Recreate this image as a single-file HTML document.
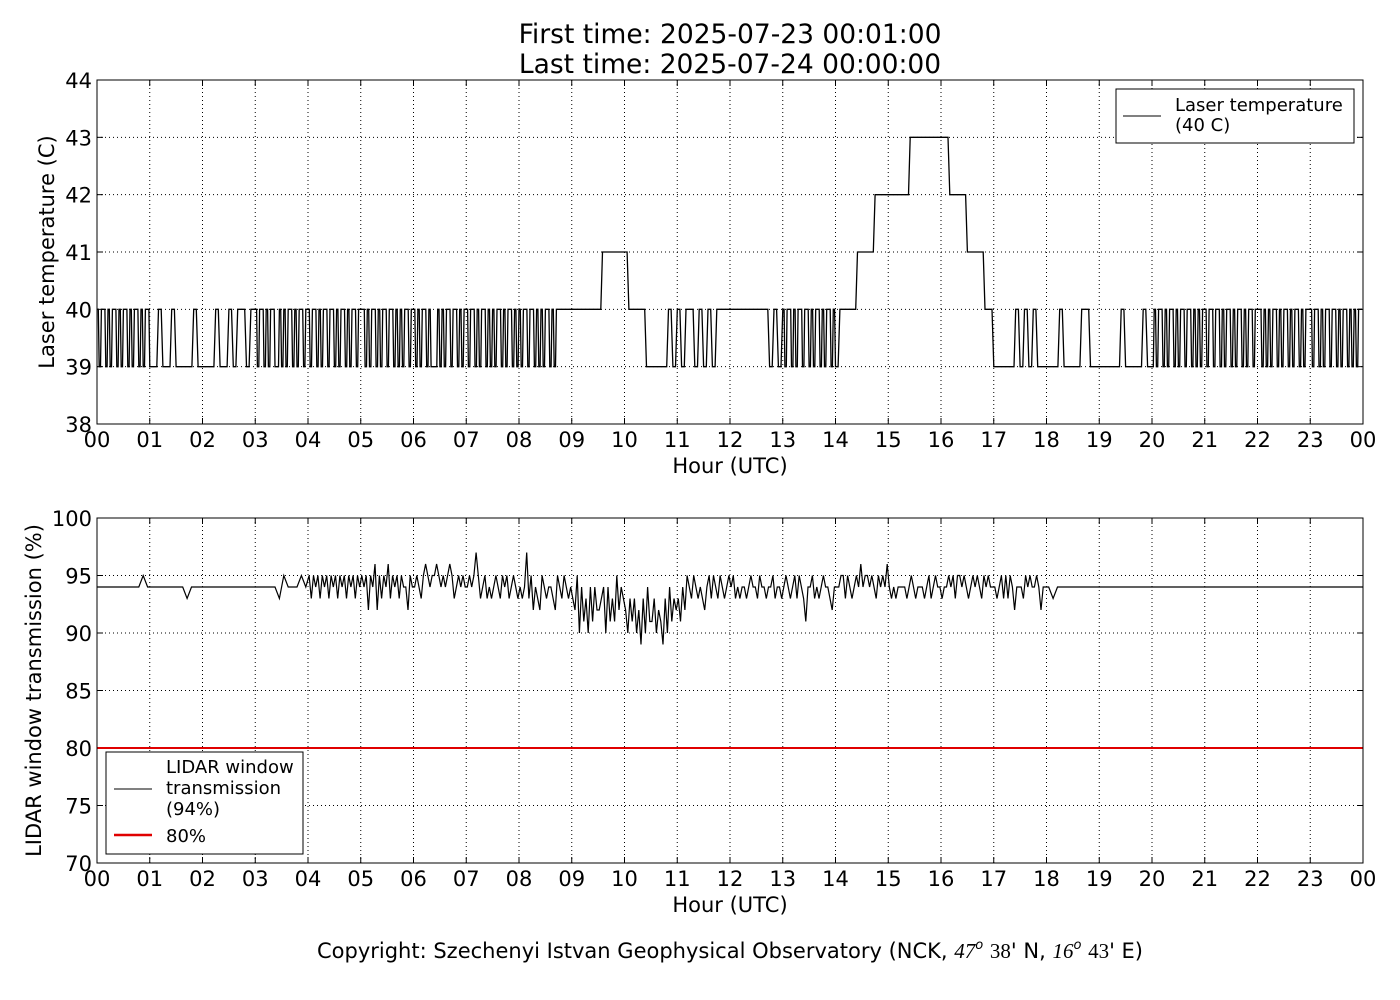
<!DOCTYPE html>
<html><head><meta charset="utf-8"><style>
html,body{margin:0;padding:0;background:#fff;}
svg{display:block;font-family:"DejaVu Sans","Liberation Sans",sans-serif;}
</style></head><body>
<svg id="chart" width="1400" height="1000" viewBox="0 0 1400 1000" xmlns="http://www.w3.org/2000/svg">
<rect width="1400" height="1000" fill="#fff"/>
<text x="730" y="43" font-size="26.5" text-anchor="middle">First time: 2025-07-23 00:01:00</text>
<text x="730" y="73" font-size="26.5" text-anchor="middle">Last time: 2025-07-24 00:00:00</text>
<g id="top"></g>
<g id="bot"></g>
<text x="730" y="958" font-size="21" text-anchor="middle">Copyright: Szechenyi Istvan Geophysical Observatory (NCK, <tspan font-family="Liberation Serif" font-style="italic">47</tspan><tspan font-size="13" dy="-9" font-style="italic">o</tspan><tspan dy="9">   </tspan><tspan font-family="Liberation Serif">38</tspan>' N, <tspan font-family="Liberation Serif" font-style="italic">16</tspan><tspan font-size="13" dy="-9" font-style="italic">o</tspan><tspan dy="9">   </tspan><tspan font-family="Liberation Serif">43</tspan>' E)</text>
</svg>
<script>
// Laser temperature, equal bins per hour (string length = bins), digit = value - 39
const tempHours = [
"101101011010110101101011","001001000010","000100101101","101101011001010110101101",
"101101011011010110101101","110101101011011010101101","101011010001010110110101","101101011010101101011010",
"101101101010110101111111","111111122222","211110000010","101101010111",
"111111111010","101101011011010110101101","011112222333","333334444444",
"443333222211","000001010100","000100001100","000001000010",
"010110101101011011010101","101101101011010110101101","110101011010110101101011","101101011011010110101011"];
const tempOffset = 39;
// LIDAR window transmission, equal bins per hour, digit = value - 89
const transHours = [
"555555555565","555555554555","555555555555","555554655565",
"646564656465646564656465","656365736465746564655365","565467656676565676456565","565686456454565465645654",
"545846354365455436546545","436152415253345152426354","314241304152241320415243","425365465454356465465456",
"564545545655465545564554","565456465425564545655435","556646545657566565465657","545455554565455545645655",
"455656466565456565465655","545646465355546565565355","545555555555","555555555555",
"555555555555","555555555555","555555555555","555555555555"];
const transOffset = 89;
const threshold = 80;
const hourTicks = ["00","01","02","03","04","05","06","07","08","09","10","11","12","13","14","15","16","17","18","19","20","21","22","23","00"];
const tempTicks = [38,39,40,41,42,43,44];
const transTicks = [70,75,80,85,90,95,100];

const NS="http://www.w3.org/2000/svg";
function mk(parent,tag,attrs){const e=document.createElementNS(NS,tag);for(const k in attrs)e.setAttribute(k,attrs[k]);parent.appendChild(e);return e;}
const X0=97,X1=1363;
const xs=h=>X0+(X1-X0)*h/24;

function panel(g,top,bottom,ymin,ymax,yticks,ylabel,ylx){
  const ys=v=>bottom-(bottom-top)*(v-ymin)/(ymax-ymin);
  hourTicks.forEach((t,i)=>{
    const x=xs(i);
    const gl=mk(g,'line',{x1:x,x2:x,y1:top,y2:bottom,stroke:'#000','stroke-width':1,'stroke-dasharray':'1,3'});
    
    
    mk(g,'line',{x1:x,x2:x,y1:bottom,y2:bottom-6,stroke:'#000'});
    mk(g,'line',{x1:x,x2:x,y1:top,y2:top+6,stroke:'#000'});
    const tl=mk(g,'text',{x:x,y:bottom+23,'font-size':21,'text-anchor':'middle'});
    tl.textContent=t;
    
    
  });
  yticks.forEach(v=>{
    const y=ys(v);
    const gl=mk(g,'line',{x1:X0,x2:X1,y1:y,y2:y,stroke:'#000','stroke-width':1,'stroke-dasharray':'1,3'});
    
    
    mk(g,'line',{x1:X0,x2:X0+6,y1:y,y2:y,stroke:'#000'});
    mk(g,'line',{x1:X1,x2:X1-6,y1:y,y2:y,stroke:'#000'});
    const tl=mk(g,'text',{x:X0-5,y:y+8,'font-size':21,'text-anchor':'end'});
    tl.textContent=v;
    
    
  });
  const xl=mk(g,'text',{x:(X0+X1)/2,y:bottom+49,'font-size':21,'text-anchor':'middle'});
  xl.textContent='Hour (UTC)';
  
  
  const yl=mk(g,'text',{x:0,y:0,'font-size':21,'text-anchor':'middle',transform:`translate(${ylx},${(top+bottom)/2}) rotate(-90)`});
  yl.textContent=ylabel;
  
  
  return ys;
}
function frame(g,top,bottom){
  const r=mk(g,'rect',{x:X0,y:top,width:X1-X0,height:bottom-top,fill:'none',stroke:'#000','stroke-width':1});
  
  
}

// Top panel
const gt=document.getElementById('top');
const ysT=panel(gt,80,424,38,44,tempTicks,'Laser temperature (C)',54);
let pts=[];
tempHours.forEach((s,h)=>{const n=s.length;for(let i=0;i<n;i++){const v=tempOffset+ +s[i];const t0=h+i/n,t1=h+(i+0.6)/n;pts.push(xs(t0).toFixed(1)+','+ysT(v).toFixed(1));pts.push(xs(t1).toFixed(1)+','+ysT(v).toFixed(1));}});
const lt=mk(gt,'polyline',{points:pts.join(' '),fill:'none',stroke:'#000','stroke-width':1.3});


frame(gt,80,424);
const lg1=mk(gt,'g',{});


mk(lg1,'rect',{x:1116,y:89,width:238,height:54,fill:'#fff',stroke:'#000'});
mk(lg1,'line',{x1:1123,x2:1161,y1:116,y2:116,stroke:'#000'});
let t=mk(lg1,'text',{x:1175,y:111,'font-size':18});t.textContent='Laser temperature';
t=mk(lg1,'text',{x:1175,y:131,'font-size':18});t.textContent='(40 C)';

// Bottom panel
const gb=document.getElementById('bot');
const ysB=panel(gb,518,863,70,100,transTicks,'LIDAR window transmission (%)',41);
pts=[];
transHours.forEach((s,h)=>{const n=s.length;for(let i=0;i<n;i++){const v=transOffset+ +s[i];pts.push(xs(h+(i+0.5)/n).toFixed(1)+','+ysB(v).toFixed(1));}});
pts.unshift(xs(0)+','+ysB(transOffset+ +transHours[0][0]).toFixed(1));
pts.push(xs(24)+','+ysB(transOffset+ +transHours[23][11]).toFixed(1));
const lb=mk(gb,'polyline',{points:pts.join(' '),fill:'none',stroke:'#000','stroke-width':1.2});


const rl=mk(gb,'line',{x1:X0,x2:X1,y1:ysB(threshold),y2:ysB(threshold),stroke:'#e00000','stroke-width':2});


frame(gb,518,863);
const lg2=mk(gb,'g',{});


mk(lg2,'rect',{x:106,y:752,width:197,height:102,fill:'#fff',stroke:'#000'});
mk(lg2,'line',{x1:114,x2:152,y1:789,y2:789,stroke:'#000'});
t=mk(lg2,'text',{x:166,y:773,'font-size':18});t.textContent='LIDAR window';
t=mk(lg2,'text',{x:166,y:794,'font-size':18});t.textContent='transmission';
t=mk(lg2,'text',{x:166,y:815,'font-size':18});t.textContent='(94%)';
mk(lg2,'line',{x1:114,x2:152,y1:835,y2:835,stroke:'#e00000','stroke-width':2.5});
t=mk(lg2,'text',{x:166,y:842,'font-size':18});t.textContent='80%';
</script>
</body></html>
